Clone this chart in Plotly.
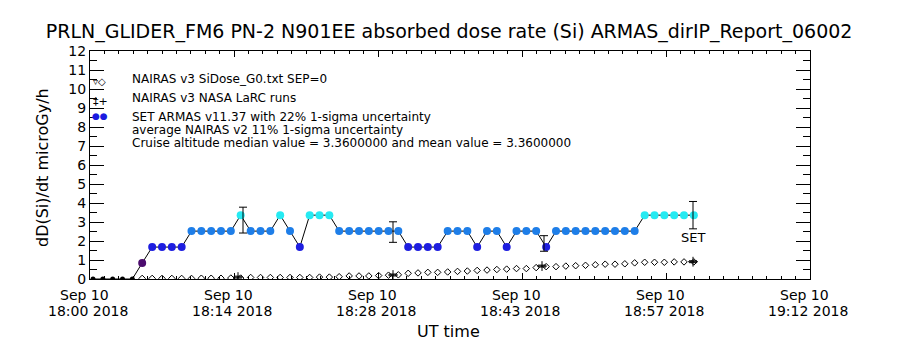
import plotly.graph_objects as go

DAY = "2018-09-10 "

# SET ARMAS measurement times (UT) and dose rates (microGy/h)
set_times = ["18:00:18", "18:01:17", "18:02:16", "18:03:15", "18:04:14", "18:05:13",
             "18:06:13", "18:07:12", "18:08:11", "18:09:10", "18:10:09", "18:11:08",
             "18:12:07", "18:13:06", "18:14:05", "18:15:04", "18:16:04", "18:17:03",
             "18:18:02", "18:19:01", "18:20:00", "18:20:59", "18:21:58", "18:22:57",
             "18:23:56", "18:24:55", "18:25:55", "18:26:54", "18:27:53", "18:28:52",
             "18:29:51", "18:30:50", "18:31:49", "18:32:48", "18:33:47", "18:34:46",
             "18:35:46", "18:36:45", "18:37:44", "18:38:43", "18:39:42", "18:40:41",
             "18:41:40", "18:42:39", "18:43:38", "18:44:37", "18:45:37", "18:46:36",
             "18:47:35", "18:48:34", "18:49:33", "18:50:32", "18:51:31", "18:52:30",
             "18:53:29", "18:54:28", "18:55:28", "18:56:27", "18:57:26", "18:58:25",
             "18:59:24", "19:00:23"]
set_values = [0, 0, 0, 0, 0, 0.84,
              1.68, 1.68, 1.68, 1.68, 2.52, 2.52,
              2.52, 2.52, 2.52, 3.36, 2.52, 2.52,
              2.52, 3.36, 2.52, 1.68, 3.36, 3.36,
              3.36, 2.52, 2.52, 2.52, 2.52, 2.52,
              2.52, 2.52, 1.68, 1.68, 1.68, 1.68,
              2.52, 2.52, 2.52, 1.68, 2.52, 2.52,
              1.68, 2.52, 2.52, 2.52, 1.68, 2.52,
              2.52, 2.52, 2.52, 2.52, 2.52, 2.52,
              2.52, 2.52, 3.36, 3.36, 3.36, 3.36,
              3.36, 3.36]

# NAIRAS v3 SiDose (same times; none for the first five)
nairas_values = [None, None, None, None, None, 0.03,
                 0.03, 0.03, 0.03, 0.03, 0.03, 0.04,
                 0.04, 0.04, 0.05, 0.05, 0.08, 0.08,
                 0.08, 0.08, 0.08, 0.08, 0.08, 0.10,
                 0.10, 0.12, 0.16, 0.16, 0.16, 0.18,
                 0.20, 0.22, 0.30, 0.32, 0.35, 0.35,
                 0.37, 0.40, 0.42, 0.45, 0.47, 0.50,
                 0.52, 0.55, 0.55, 0.60, 0.65, 0.65,
                 0.68, 0.70, 0.72, 0.75, 0.78, 0.78,
                 0.80, 0.85, 0.88, 0.88, 0.88, 0.90,
                 0.90, 0.90]

# NASA LaRC runs
larc_times = ["18:14:48", "18:30:18", "18:45:12", "19:00:18"]
larc_values = [0.10, 0.21, 0.68, 0.91]
larc_err = [0.05, 0.05, 0.05, 0.05]

# SET 22% 1-sigma error bars
err_times = ["18:15:18", "18:30:18", "18:45:24", "19:00:18"]
err_values = [3.10, 2.47, 1.87, 3.36]
err_sigma = [0.68, 0.54, 0.41, 0.72]

# Axis ticks
x_tickvals = ["18:00:00", "18:14:24", "18:28:48", "18:43:12", "18:57:36", "19:12:00"]
x_ticktext = ["18:00 2018", "18:14 2018", "18:28 2018", "18:43 2018", "18:57 2018", "19:12 2018"]
x_date_text = "Sep 10"

legend_lines = ["NAIRAS v3 SiDose_G0.txt SEP=0",
                "NAIRAS v3 NASA LaRC runs",
                "SET ARMAS v11.37 with 22% 1-sigma uncertainty",
                "average NAIRAS v2 11% 1-sigma uncertainty",
                "Cruise altitude median value = 3.3600000 and mean value = 3.3600000"]

level_colors = {0: "#000000", 0.84: "#4c0c6e", 1.68: "#1e1ee0", 2.52: "#1e7ee8", 3.36: "#26eaf2"}

FONT = "DejaVu Sans"

st = [DAY + t for t in set_times]

fig = go.Figure()

# NAIRAS diamonds
fig.add_trace(go.Scatter(
    x=st, y=nairas_values, mode="markers",
    marker=dict(symbol="diamond-open", size=5, color="black", line=dict(width=1, color="black")),
    showlegend=False, hoverinfo="skip"))

# LaRC runs
fig.add_trace(go.Scatter(
    x=[DAY + t for t in larc_times], y=larc_values, mode="markers",
    marker=dict(symbol="cross-thin-open", size=7, color="black", line=dict(width=1, color="black")),
    error_y=dict(type="data", array=larc_err, visible=True, color="black", thickness=1, width=4),
    showlegend=False, hoverinfo="skip"))

# SET line
fig.add_trace(go.Scatter(
    x=st, y=set_values, mode="lines",
    line=dict(color="black", width=1),
    showlegend=False, hoverinfo="skip"))

# SET markers coloured by level
fig.add_trace(go.Scatter(
    x=st, y=set_values, mode="markers", cliponaxis=True,
    marker=dict(symbol="circle", size=[5 if v == 0 else 8 for v in set_values], opacity=1,
                color=[level_colors[v] for v in set_values], line=dict(width=0)),
    showlegend=False))

# SET error bars
fig.add_trace(go.Scatter(
    x=[DAY + t for t in err_times], y=err_values, mode="markers",
    marker=dict(size=1, color="rgba(0,0,0,0)"),
    error_y=dict(type="data", array=err_sigma, visible=True, color="black", thickness=1, width=4),
    showlegend=False, hoverinfo="skip"))

annotations = []
# x tick labels (two lines)
for tv, tt in zip(x_tickvals, x_ticktext):
    annotations.append(dict(x=DAY + tv, xref="x", y=(279 - 295) / 228, yref="paper", text=x_date_text,
                            showarrow=False, xanchor="center", yanchor="middle", xshift=-6,
                            font=dict(family=FONT, size=14, color="black")))
    annotations.append(dict(x=DAY + tv, xref="x", y=(279 - 311) / 228, yref="paper", text=tt,
                            showarrow=False, xanchor="center", yanchor="middle", xshift=-2,
                            font=dict(family=FONT, size=14, color="black")))

# legend text
legend_y = [79, 98, 117, 130, 143]
for txt, yp in zip(legend_lines, legend_y):
    annotations.append(dict(x=(130 - 90) / 720, xref="paper", y=(279 - yp) / 228, yref="paper",
                            text=txt, showarrow=False, xanchor="left", yanchor="middle",
                            font=dict(family=FONT, size=12, color="black")))

# legend symbols
annotations.append(dict(x=(91 - 90) / 720, xref="paper", y=(279 - 81) / 228, yref="paper",
                        text="▿◇", showarrow=False, xanchor="left", yanchor="middle",
                        font=dict(family=FONT, size=10, color="black")))
annotations.append(dict(x=(91 - 90) / 720, xref="paper", y=(279 - 101) / 228, yref="paper",
                        text="‡+", showarrow=False, xanchor="left", yanchor="middle",
                        font=dict(family=FONT, size=11, color="black")))
annotations.append(dict(x=(90 - 90) / 720, xref="paper", y=(279 - 116.5) / 228, yref="paper",
                        text="●●", showarrow=False, xanchor="left", yanchor="middle",
                        font=dict(family=FONT, size=9, color="#1a1ae0")))

# SET label
annotations.append(dict(x=DAY + err_times[-1], xref="x", y=(279 - 237) / 228, yref="paper",
                        text="SET", showarrow=False, xanchor="center", yanchor="middle",
                        font=dict(family=FONT, size=13, color="black")))

# axis titles
annotations.append(dict(x=(42 - 90) / 720, xref="paper", y=(279 - 168) / 228, yref="paper",
                        text="dD(Si)/dt microGy/h", textangle=-90, showarrow=False,
                        xanchor="center", yanchor="middle",
                        font=dict(family=FONT, size=16, color="black")))
annotations.append(dict(x=(448 - 90) / 720, xref="paper", y=(279 - 331) / 228, yref="paper",
                        text="UT time", showarrow=False, xanchor="center", yanchor="middle",
                        font=dict(family=FONT, size=16, color="black")))

fig.update_layout(
    width=900, height=350,
    margin=dict(l=90, r=90, t=51, b=71),
    paper_bgcolor="white", plot_bgcolor="white",
    title=dict(text="PRLN_GLIDER_FM6 PN-2 N901EE absorbed dose rate (Si) ARMAS_dirIP_Report_06002",
               x=0.499, xanchor="center", y=1 - 31 / 350, yanchor="middle", yref="container",
               font=dict(family=FONT, size=19, color="black")),
    annotations=annotations,
    showlegend=False,
)

fig.update_xaxes(
    type="date", range=[DAY + "18:00:00", DAY + "19:12:00"],
    tickmode="array", tickvals=[DAY + t for t in x_tickvals], showticklabels=False,
    ticks="inside", ticklen=6, tickcolor="black", tickwidth=1,
    showline=True, linecolor="black", linewidth=1, mirror="allticks",
    showgrid=False, zeroline=False,
    minor=dict(ticks="inside", ticklen=3, tickcolor="black", tickwidth=1,
               tickmode="linear", tick0=DAY + "18:00:00", dtick=86400, showgrid=False),
)
fig.update_yaxes(
    range=[0, 12], tickmode="linear", tick0=0, dtick=1,
    ticks="inside", ticklen=14, tickcolor="black", tickwidth=1,
    showline=True, linecolor="black", linewidth=1, mirror="allticks",
    showgrid=False, zeroline=False,
    tickfont=dict(family=FONT, size=14, color="black"),
    minor=dict(ticks="inside", ticklen=7, tickcolor="black", tickwidth=1,
               tickmode="linear", dtick=0.5, showgrid=False),
)

fig.write_html("out.html")
